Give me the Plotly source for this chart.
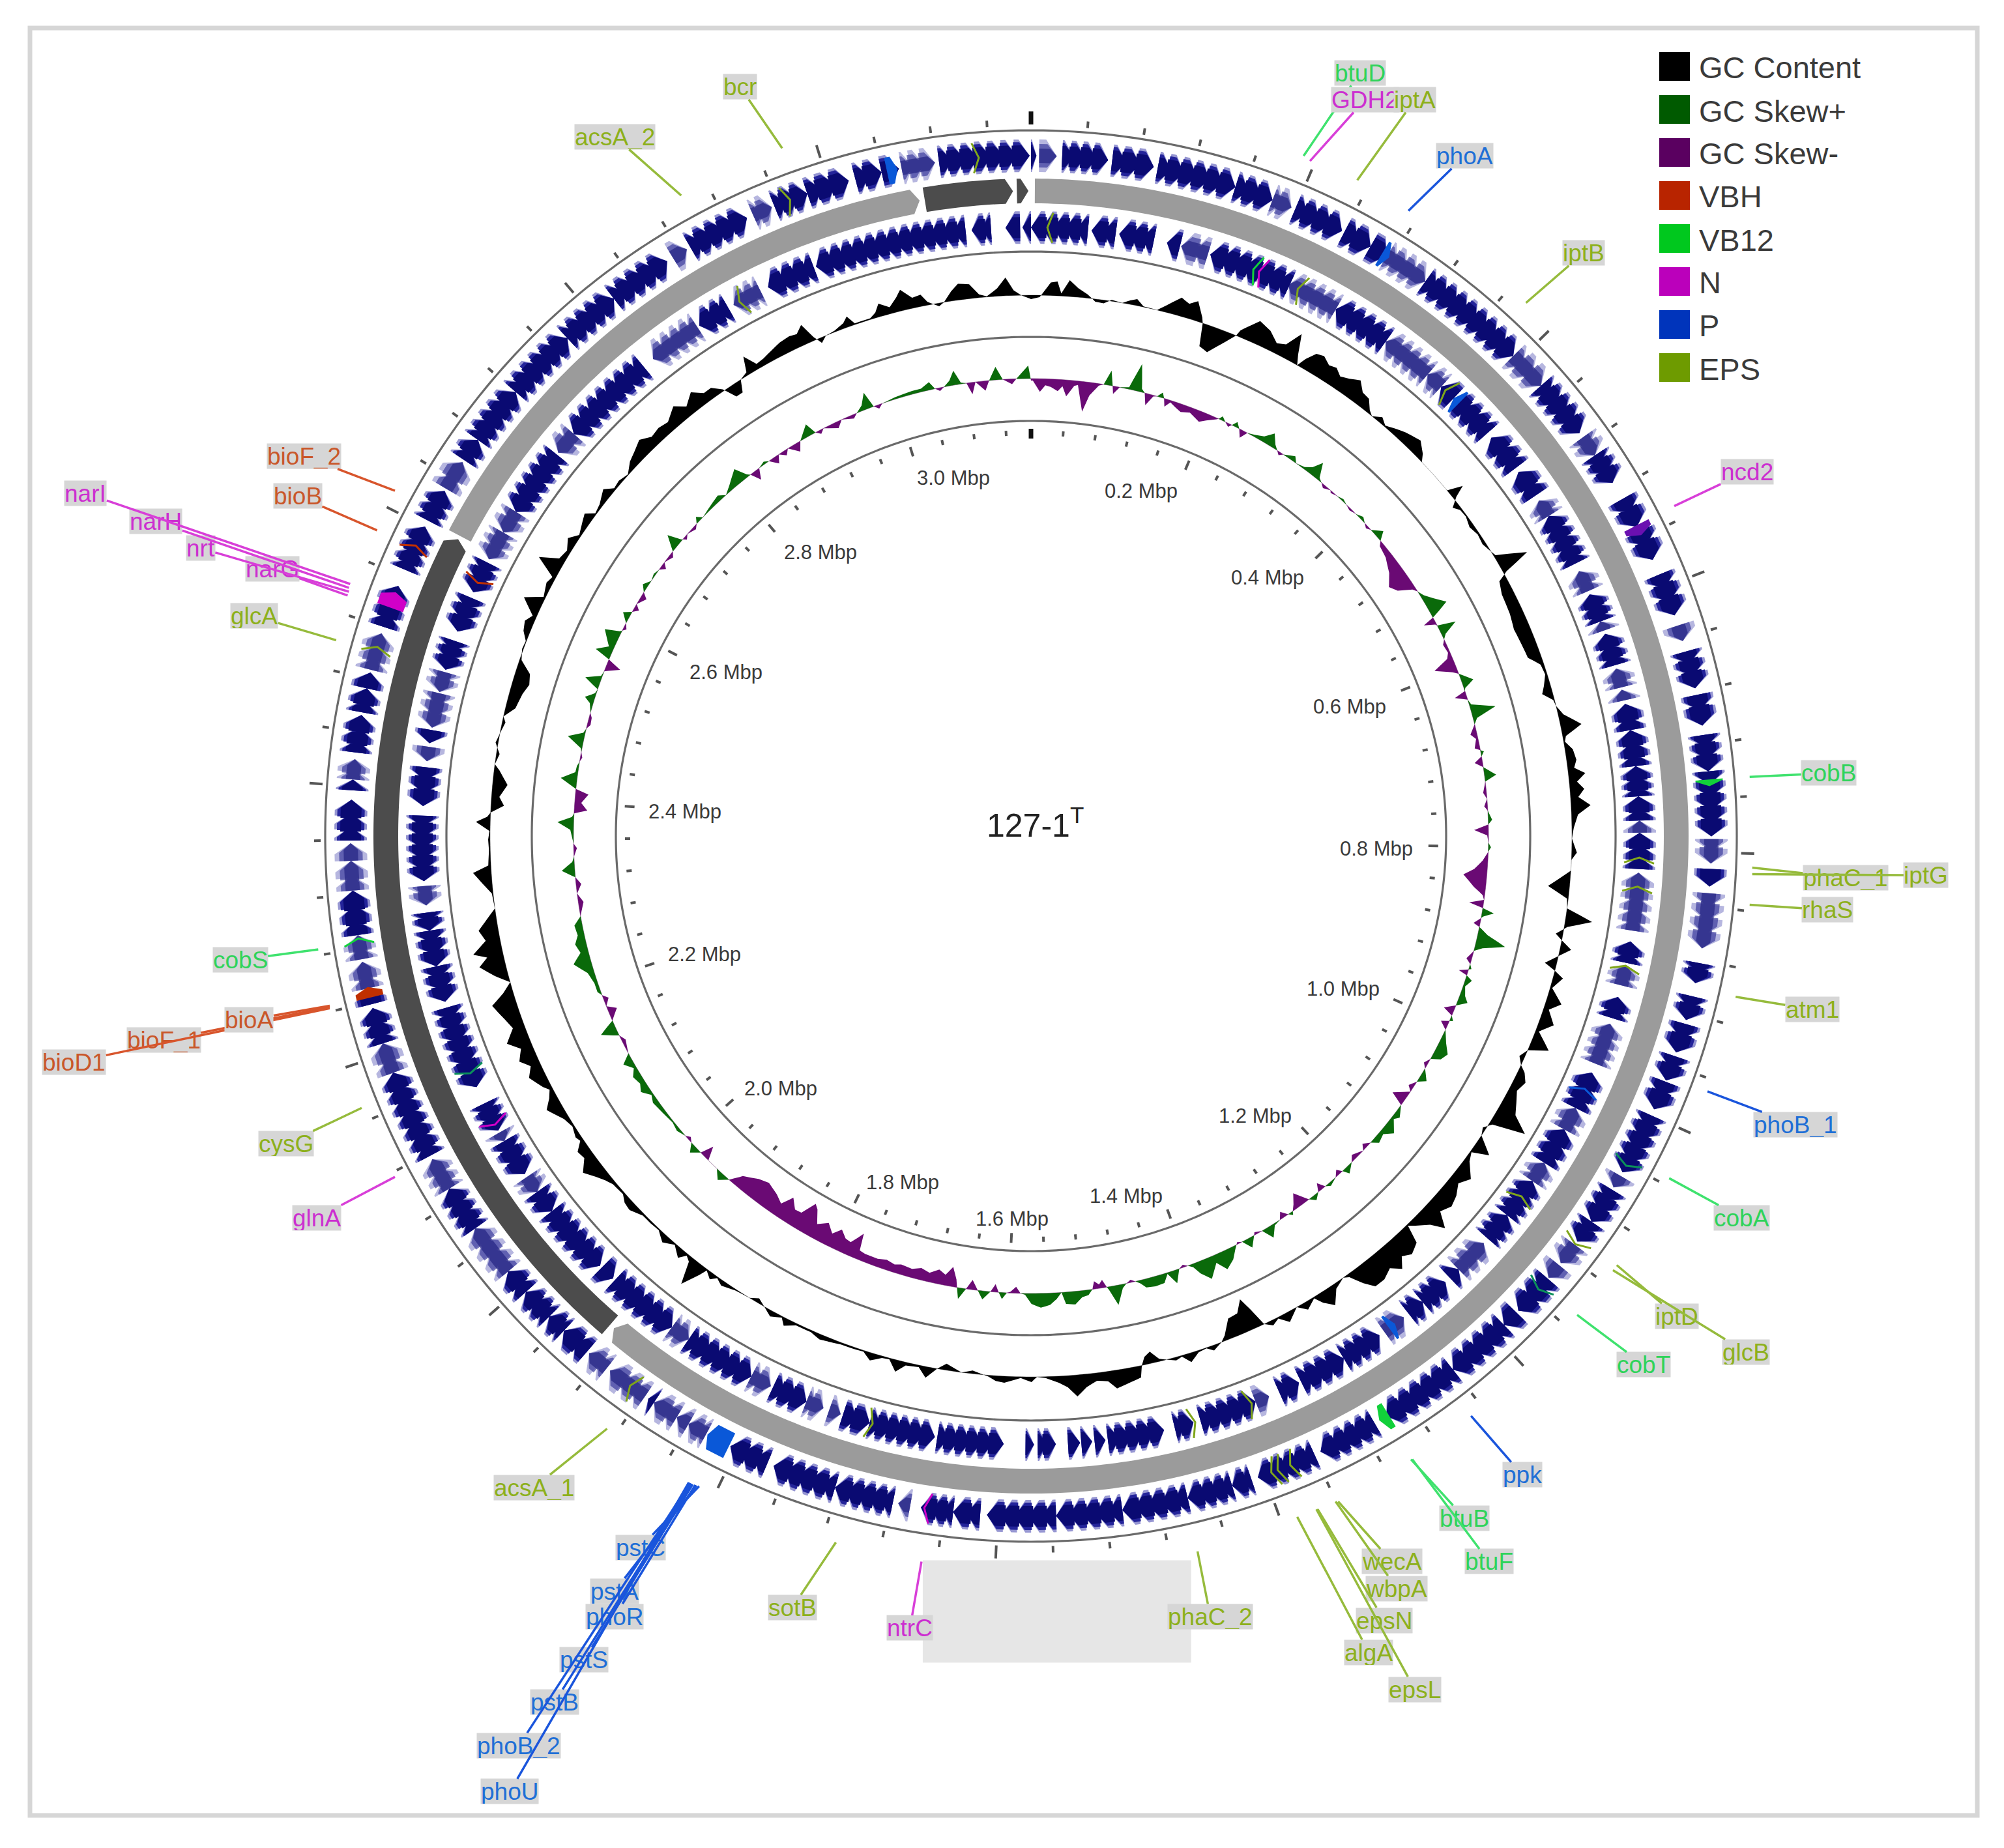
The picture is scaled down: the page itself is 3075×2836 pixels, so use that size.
import numpy as np
import plotly.graph_objects as go

# ---------- data ----------
GENOME_MBP = 3.151

# coding blocks on the forward strand (start Mbp, end Mbp, 1 = dense / 0 = pale)
fwd_blocks = [(0.0,.004,1),(.006,.019,0),(.023,.057,1),(.06,.091,1),(.094,.153,1),(.153,.182,1),(.182,.197,0),
(.2,.238,1),(.24,.262,1),(.262,.276,1),(.276,.31,0),(.31,.395,1),(.395,.425,0),(.425,.47,1),(.474,.49,0),(.49,.514,1),
(.528,.551,1),(.555,.578,1),(.59,.622,1),(.63,.642,0),(.65,.678,1),(.683,.706,1),(.713,.74,1),(.74,.788,1),(.79,.808,0),
(.812,.825,1),(.83,.871,0),(.882,.897,1),(.907,.925,1),(.928,.95,1),(.953,.972,1),(.973,.995,1),(1.0,1.047,1),(1.05,1.06,0),
(1.062,1.09,1),(1.09,1.108,1),(1.111,1.128,0),(1.13,1.142,0),(1.143,1.175,1),(1.177,1.19,1),(1.19,1.24,1),(1.24,1.3,1),
(1.31,1.355,1),(1.36,1.405,1),(1.41,1.425,1),(1.425,1.459,1),(1.459,1.508,1),(1.508,1.557,1),(1.557,1.608,1),(1.613,1.633,1),
(1.633,1.657,1),(1.665,1.674,0),(1.678,1.722,1),(1.722,1.77,1),(1.775,1.805,1),(1.825,1.84,0),(1.84,1.85,0),(1.85,1.87,0),
(1.87,1.875,1),(1.878,1.91,0),(1.913,1.93,0),(1.932,1.955,1),(1.955,1.97,1),(1.97,1.995,1),(1.995,2.015,1),(2.015,2.055,0),
(2.055,2.09,1),(2.09,2.115,0),(2.118,2.185,1),(2.185,2.208,0),(2.208,2.235,1),(2.238,2.25,1),(2.25,2.27,0),(2.272,2.29,0),
(2.29,2.323,1),(2.323,2.345,0),(2.345,2.358,0),(2.36,2.39,1),(2.397,2.405,1),(2.405,2.42,0),(2.425,2.453,1),(2.455,2.473,1),
(2.473,2.485,1),(2.487,2.515,0),(2.52,2.552,1),(2.565,2.6,1),(2.605,2.63,1),(2.632,2.655,0),(2.657,2.675,1),(2.675,2.72,1),
(2.72,2.775,1),(2.775,2.82,1),(2.82,2.868,1),(2.873,2.885,0),(2.888,2.935,1),(2.94,2.955,0),(2.957,2.983,1),(2.983,3.015,1),
(3.02,3.04,1),(3.04,3.053,1),(3.055,3.08,0),(3.083,3.15,1)]

# coding blocks on the reverse strand
rev_blocks = [(0.0,.047,1),(.05,.07,1),(.073,.102,1),(.113,.124,1),(.125,.148,0),(.15,.22,1),(.219,.263,0),(.263,.312,1),
(.312,.356,0),(.356,.371,0),(.371,.385,1),(.385,.425,1),(.43,.462,1),(.466,.49,1),(.495,.51,0),(.51,.555,1),(.562,.58,0),
(.583,.607,1),(.607,.615,0),(.618,.645,1),(.648,.664,0),(.666,.675,0),(.678,.70,1),(.70,.73,1),(.73,.755,1),(.755,.775,1),
(.775,.785,0),(.785,.815,1),(.818,.866,0),(.875,.893,1),(.895,.912,0),(.922,.94,1),(.945,.98,0),(.988,1.02,1),(1.02,1.04,0),
(1.04,1.072,1),(1.072,1.09,0),(1.09,1.125,1),(1.125,1.15,1),(1.155,1.185,0),(1.185,1.195,1),(1.2,1.225,1),(1.225,1.24,1),
(1.245,1.265,0),(1.27,1.305,1),(1.305,1.345,1),(1.347,1.365,1),(1.374,1.386,0),(1.386,1.434,1),(1.44,1.456,1),(1.465,1.512,1),
(1.514,1.523,1),(1.525,1.534,1),(1.535,1.545,1),(1.555,1.57,1),(1.573,1.58,1),(1.598,1.653,1),(1.655,1.71,1),(1.71,1.733,1),
(1.735,1.745,0),(1.75,1.765,0),(1.765,1.795,1),(1.797,1.815,0),(1.815,1.875,1),(1.875,1.892,0),(1.892,1.953,1),(1.955,1.968,1),
(1.97,2.03,1),(2.03,2.05,1),(2.05,2.065,0),(2.068,2.1,1),(2.1,2.108,0),(2.11,2.135,1),(2.15,2.22,1),(2.225,2.255,1),
(2.255,2.285,1),(2.285,2.30,1),(2.306,2.322,0),(2.326,2.38,1),(2.388,2.42,1),(2.425,2.437,0),(2.44,2.451,1),(2.453,2.482,0),
(2.483,2.5,0),(2.502,2.527,1),(2.535,2.565,1),(2.57,2.597,1),(2.6,2.625,0),(2.625,2.645,0),(2.645,2.703,1),(2.705,2.725,0),
(2.725,2.805,1),(2.815,2.86,0),(2.862,2.89,1),(2.895,2.92,0),(2.927,2.968,1),(2.97,3.097,1),(3.102,3.118,1),(3.13,3.142,1),(3.144,3.151,1)]

# coloured genes on the tracks: (strand, position Mbp, group, width Mbp; 0 = thin mark)
features = [("f",3.108,"EPS",0),("f",2.965,"EPS",0),("f",3.044,"P",.008),("f",2.535,"N",.012),("f",2.58,"VBH",0),
("f",2.243,"VBH",.008),("f",2.283,"VB12",0),("f",2.50,"EPS",0),("f",.746,"VB12",.005),("f",.55,"Nd",.008),("f",1.037,"VB12d",0),
("f",1.106,"EPS",0),("f",1.149,"VB12d",0),("f",1.887,"EPS",0),("f",1.806,"P",.018),("f",1.298,"VB12",.008),("f",1.39,"EPS",0),
("f",1.385,"EPS",0),("f",1.375,"EPS",0),("f",1.65,"N",0),("f",.272,"P",.006),
("r",.018,"EPS",0),("r",.192,"VB12",0),("r",.197,"N",0),("r",.232,"EPS",0),("r",.38,"EPS",0),("r",.385,"P",.006),("r",.81,"EPS",0),
("r",.834,"EPS",0),("r",.9,"EPS",0),("r",1.11,"EPS",0),("r",1.254,"P",.006),("r",1.007,"P",0),("r",1.394,"EPS",0),("r",1.443,"EPS",0),
("r",1.712,"EPS",0),("r",2.12,"N",0),("r",2.167,"VB12d",0),("r",2.583,"VBH",0),("r",2.905,"EPS",0)]

# backbone contigs (start, end, 1 = dark / 0 = light)
contig_start = [0.003, 1.932, 2.606, 3.068, 3.140]
contig_end = [1.928, 2.603, 3.064, 3.137, 3.149]
contig_dark = [0, 1, 0, 1, 1]

gc_pos = [0,.008,.012,.018,.024,.028,.035,.043,.052,.06,.068,.075,.085,.092,.098,.105,.118,.125,.137,.145,.152,.16,.162,.166,.175,.188,.195,.197,.21,.222,.232,.24,.248,.254,.258,.262,.268,.275,.283,.29,.297,.305,.314,.322,.33,.337,.342,.35,.357,.365,.375,.39,.4,.405,.44,.446,.45,.456,.462,.47,.48,.49,.5,.51,.515,.527,.533,.538,.55,.57,.585,.6,.615,.625,.635,.645,.652,.66,.666,.675,.687,.695,.7,.708,.718,.725,.731,.738,.745,.752,.76,.768,.78,.79,.803,.81,.82,.836,.846,.855,.864,.872,.88,.885,.892,.9,.909,.914,.919,.93,.942,.95,.962,.972,.985,.992,1.0,1.007,1.012,1.02,1.03,1.04,1.05,1.06,1.068,1.075,1.082,1.093,1.1,1.108,1.12,1.13,1.14,1.15,1.16,1.168,1.175,1.185,1.19,1.195,1.205,1.213,1.22,1.228,1.238,1.248,1.255,1.262,1.267,1.278,1.287,1.295,1.3,1.31,1.318,1.33,1.338,1.345,1.352,1.358,1.363,1.371,1.381,1.39,1.395,1.404,1.41,1.418,1.427,1.434,1.44,1.447,1.455,1.462,1.468,1.472,1.475,1.485,1.498,1.505,1.515,1.525,1.534,1.542,1.55,1.562,1.57,1.575,1.585,1.6,1.608,1.615,1.63,1.64,1.655,1.663,1.672,1.68,1.692,1.7,1.708,1.715,1.725,1.733,1.745,1.755,1.775,1.785,1.8,1.81,1.815,1.825,1.832,1.842,1.85,1.865,1.878,1.885,1.89,1.897,1.9,1.908,1.915,1.92,1.925,1.935,1.945,1.955,1.965,1.975,1.987,1.995,2.002,2.015,2.022,2.03,2.04,2.05,2.058,2.065,2.07,2.08,2.09,2.105,2.113,2.12,2.125,2.138,2.147,2.155,2.165,2.174,2.185,2.195,2.21,2.218,2.226,2.235,2.246,2.253,2.258,2.268,2.278,2.285,2.296,2.31,2.32,2.33,2.336,2.35,2.36,2.368,2.376,2.381,2.385,2.392,2.4,2.412,2.425,2.43,2.44,2.45,2.47,2.475,2.485,2.5,2.51,2.52,2.53,2.54,2.548,2.556,2.565,2.572,2.584,2.592,2.605,2.612,2.622,2.63,2.64,2.65,2.658,2.677,2.683,2.692,2.705,2.712,2.72,2.73,2.74,2.75,2.76,2.77,2.78,2.79,2.803,2.812,2.823,2.832,2.84,2.848,2.855,2.862,2.867,2.875,2.88,2.887,2.895,2.905,2.915,2.925,2.932,2.939,2.945,2.95,2.956,2.965,2.975,2.98,2.985,3.0,3.006,3.011,3.02,3.028,3.033,3.042,3.05,3.055,3.065,3.07,3.078,3.085,3.095,3.103,3.11,3.12,3.128,3.135,3.142,3.151]
gc_val = [-6,-3,6,20,22,4,25,14,6,-4,-5,2,0,6,10,1,0,10,28,22,30,8,0,-35,-40,-15,0,10,35,28,15,20,45,15,0,15,30,33,25,28,20,25,33,20,18,5,0,9,2,8,15,22,10,0,0,23,5,-10,-3,-2,-7,-3,-5,0,3,47,5,-12,-18,-20,-24,-22,-20,-5,-3,-10,-16,-2,0,8,32,5,2,12,15,10,26,12,22,12,30,10,3,0,8,0,0,-33,-2,0,41,5,-11,0,17,0,-18,0,15,3,24,8,23,5,30,0,-8,0,10,18,12,20,28,55,5,-5,0,27,2,8,26,15,25,30,22,45,25,10,2,30,38,30,45,32,40,40,25,5,0,8,28,15,2,12,0,15,2,8,0,-30,-50,-32,-30,-8,0,8,1,3,14,2,5,1,-4,-18,-12,0,18,22,28,15,12,20,33,18,10,2,0,8,2,10,8,2,-5,0,-10,0,17,3,5,18,2,3,12,2,3,3,8,3,3,12,2,9,2,-7,0,2,8,2,10,2,14,42,8,3,14,2,12,2,3,3,12,10,3,5,10,18,30,15,18,5,8,3,8,24,12,5,12,25,15,28,18,35,18,25,37,15,0,20,40,25,45,22,30,18,0,2,15,28,4,2,3,1,22,5,0,-20,-12,-23,-8,0,-5,4,-5,0,-15,-20,-26,-22,-3,2,1,10,14,6,30,3,9,5,38,10,6,15,3,15,2,5,15,3,5,1,12,18,25,15,18,15,28,15,28,15,15,3,-18,-18,0,5,28,8,10,15,20,22,20,30,5,-8,0,2,8,16,2,2,8,20,10,22,32,16,18,5,-5,0,15,25,22,5,1,12,28,8,0,-6]

skew_pos = [0,.002,.01,.016,.022,.03,.035,.04,.048,.052,.06,.066,.075,.08,.086,.09,.092,.098,.108,.116,.122,.126,.13,.136,.14,.145,.148,.151,.156,.163,.17,.18,.193,.2,.21,.212,.215,.22,.225,.228,.232,.237,.242,.247,.255,.265,.273,.28,.285,.289,.293,.305,.31,.32,.327,.333,.34,.345,.35,.358,.36,.375,.388,.396,.404,.41,.415,.42,.43,.436,.44,.454,.46,.47,.483,.492,.5,.505,.512,.52,.53,.535,.538,.541,.546,.548,.553,.56,.565,.57,.58,.586,.593,.602,.606,.617,.623,.626,.63,.636,.642,.651,.658,.664,.674,.68,.69,.695,.7,.706,.712,.722,.728,.74,.747,.755,.76,.77,.775,.781,.787,.795,.8,.805,.815,.825,.832,.845,.853,.858,.863,.867,.871,.876,.885,.888,.895,.903,.91,.915,.925,.93,.935,.94,.943,.947,.955,.965,.971,.978,.985,.99,.995,1.0,1.007,1.02,1.03,1.038,1.043,1.05,1.055,1.066,1.072,1.08,1.085,1.097,1.103,1.115,1.12,1.132,1.14,1.15,1.156,1.163,1.168,1.18,1.186,1.196,1.2,1.204,1.21,1.22,1.225,1.23,1.235,1.242,1.248,1.258,1.265,1.27,1.272,1.276,1.282,1.287,1.295,1.303,1.31,1.318,1.32,1.328,1.335,1.34,1.345,1.352,1.362,1.37,1.381,1.39,1.395,1.4,1.405,1.41,1.417,1.424,1.43,1.44,1.45,1.455,1.46,1.465,1.47,1.475,1.483,1.49,1.492,1.496,1.5,1.505,1.508,1.513,1.52,1.528,1.538,1.542,1.548,1.555,1.565,1.575,1.582,1.587,1.592,1.598,1.602,1.607,1.611,1.615,1.62,1.628,1.634,1.641,1.647,1.654,1.657,1.659,1.665,1.672,1.68,1.69,1.7,1.71,1.723,1.73,1.74,1.75,1.765,1.772,1.775,1.785,1.792,1.8,1.808,1.817,1.828,1.836,1.841,1.85,1.858,1.867,1.875,1.885,1.9,1.912,1.92,1.928,1.934,1.937,1.946,1.955,1.968,1.975,1.98,1.988,1.995,2.0,2.005,2.015,2.025,2.04,2.055,2.063,2.072,2.08,2.09,2.098,2.107,2.115,2.13,2.137,2.146,2.155,2.166,2.172,2.18,2.185,2.19,2.2,2.213,2.226,2.236,2.246,2.255,2.266,2.275,2.29,2.3,2.31,2.318,2.326,2.335,2.35,2.355,2.37,2.378,2.384,2.388,2.392,2.4,2.41,2.415,2.425,2.433,2.44,2.45,2.46,2.47,2.477,2.482,2.487,2.495,2.5,2.51,2.515,2.522,2.527,2.535,2.542,2.548,2.556,2.562,2.567,2.575,2.59,2.595,2.6,2.606,2.615,2.62,2.625,2.63,2.64,2.645,2.652,2.66,2.668,2.675,2.68,2.685,2.695,2.7,2.71,2.716,2.72,2.725,2.735,2.74,2.745,2.75,2.76,2.778,2.785,2.795,2.81,2.817,2.82,2.826,2.832,2.84,2.845,2.853,2.858,2.865,2.87,2.88,2.886,2.89,2.9,2.905,2.91,2.915,2.93,2.937,2.95,2.955,2.963,2.97,2.975,2.98,2.985,3.0,3.02,3.03,3.04,3.045,3.05,3.055,3.062,3.068,3.074,3.08,3.085,3.09,3.1,3.105,3.113,3.12,3.13,3.135,3.148,3.151]
skew_val = [-3,-3,-20,-10,-12,-18,-10,-25,-8,-6,-46,-20,-3,0,23,0,-12,0,3,42,5,0,-18,-2,0,8,0,-12,-3,-8,-12,-8,-16,-10,-2,0,6,0,-5,0,8,0,-12,0,3,8,20,6,0,-5,0,8,0,3,10,25,4,0,-5,0,-3,3,-3,0,5,0,-4,0,13,0,-6,-10,-14,-20,-33,-25,-5,0,5,15,30,12,0,-18,-2,0,28,6,0,-5,-3,-8,-33,-8,0,18,2,0,-18,0,3,38,6,0,-10,-3,-8,5,0,-12,0,18,0,-5,0,-5,0,6,0,-22,-2,0,4,0,-8,-20,-36,-18,-3,0,-22,0,18,3,-10,0,15,45,12,0,-8,0,4,-14,0,10,3,8,15,0,-16,0,5,-12,0,10,20,14,0,-6,0,12,0,-8,0,-22,0,10,4,18,6,10,0,-8,0,-8,0,10,0,-8,0,5,0,-12,0,8,0,-22,-8,0,5,0,-10,0,3,18,0,-4,0,15,0,-3,5,18,28,12,32,18,5,0,-4,0,20,2,14,15,13,5,0,-4,0,6,30,5,0,-12,-6,-12,0,8,10,20,18,0,10,18,22,16,2,0,-10,-2,0,10,0,-12,0,13,0,-15,0,17,0,-12,-30,-16,-22,-14,-18,-13,-15,-12,-15,-12,-12,-14,-40,-20,-22,-32,-20,-32,-22,-42,-48,-25,-24,-38,-20,-28,-35,-30,-24,-18,-6,0,12,0,0,-20,0,12,0,-5,0,5,2,5,8,3,14,8,12,4,15,0,-6,0,25,0,-14,0,-8,0,5,5,10,27,12,17,10,12,0,-8,0,-8,0,20,3,-5,0,5,25,3,0,-20,-10,-20,0,25,4,3,-3,2,25,3,0,-5,-4,0,5,15,2,0,24,2,0,-22,0,25,8,25,3,-5,0,12,0,-8,0,-9,0,8,0,3,0,-8,0,-6,0,22,2,-5,0,-5,0,8,0,3,8,0,8,22,4,0,-16,0,4,0,-12,0,-8,0,-14,0,5,18,0,-6,0,-10,0,-6,0,8,25,0,-6,0,3,5,5,12,0,-5,0,8,22,2,0,-18,0,-15,0,20,0,-8,0,20,-3]

outer_tick_major_label = ["0.2 Mbp","0.4 Mbp","0.6 Mbp","0.8 Mbp","1.0 Mbp","1.2 Mbp","1.4 Mbp","1.6 Mbp","1.8 Mbp","2.0 Mbp","2.2 Mbp","2.4 Mbp","2.6 Mbp","2.8 Mbp","3.0 Mbp"]
legend_names = ["GC Content","GC Skew+","GC Skew-","VBH","VB12","N","P","EPS"]
gene_names = ["bcr","acsA_2","btuD","GDH2","iptA","phoA","iptB","ncd2","cobB","phaC_1","iptG","rhaS","atm1","phoB_1","cobA","iptD","glcB","cobT","ppk","btuB","btuF","wecA","wbpA","epsN","algA","epsL","phaC_2","ntrC","sotB","pstC","pstA","phoR","pstS","pstB","phoB_2","phoU","acsA_1","glnA","cysG","bioF_1","bioD1","bioA","cobS","glcA","narG","nrt","narH","narI","bioB","bioF_2"]
gene_groups = ["EPS","EPS","VB12","N","EPS","P","EPS","N","VB12","EPS","EPS","EPS","EPS","P","VB12","EPS","EPS","VB12","P","VB12","VB12","EPS","EPS","EPS","EPS","EPS","EPS","N","EPS","P","P","P","P","P","P","P","EPS","N","EPS","VBH","VBH","VBH","VB12","EPS","N","N","N","N","VBH","VBH"]

# ---------- layout (pixels of the 3075 x 2836 page) ----------
W, H = 3075, 2836
CX, CY = 1582, 1283
RMAX = 1270
S = 3075 / 1568
legend_colors = ["#000000","#005a00","#5a0060","#b82400","#00c81e","#bb00bb","#0034bb","#6e9b00"]
label_text = {"EPS":"#8db01c","VB12":"#2fd35a","N":"#cc2fd0","P":"#1f6fd6","VBH":"#c9572a"}
leader = {"EPS":"#96bb3c","VB12":"#3fe26e","N":"#d83fd8","P":"#1a55dc","VBH":"#d8552c"}
mark = {"EPS":"#7fa51a","VB12":"#12d03a","VB12d":"#0b8f5a","N":"#d000c8","Nd":"#6a10b0","P":"#0a58d8","VBH":"#c03000"}

tick_label_xy = [(893,384),(992,452),(1056,553),(1077,664),(1051,774),(982,873),(881,936),(792,954),(706,925),(611,852),(551,747),(536,635),(568,526),(642,432),(746,374)]
gene_label_xy = [(579,68),(481,107),(1064,57),(1068,78),(1107,78),(1146,122),(1239,198),(1367,369),(1431,605),(1444,687),(1507,685),(1430,712),(1418,790),(1405,880),(1363,953),(1312,1030),(1366,1058),(1286,1068),(1191,1154),(1146,1188),(1165,1222),(1089,1222),(1093,1243),(1083,1268),(1071,1293),(1107,1322),(947,1265),(712,1274),(620,1258),(501,1211),(481,1245),(481,1265),(457,1299),(434,1332),(406,1366),(399,1402),(418,1164),(248,953),(224,895),(128,814),(58,831),(195,798),(188,751),(199,482),(213,445),(157,429),(122,408),(67,386),(233,388),(238,357)]
leader_tip_xy = [(612,116),(533,153),(1020,122),(1025,126),(1062,141),(1102,165),(1194,237),(1310,396),(1369,608),(1371,679),(1371,684),(1369,708),(1358,780),(1336,854),(1306,922),(1265,990),(1262,994),(1234,1029),(1151,1108),(1104,1142),(1105,1142),(1047,1175),(1045,1175),(1031,1181),(1015,1187),(1030,1181),(937,1214),(721,1222),(654,1207),(547,1163),(545,1162.5),(544,1162),(542,1161.5),(541,1161),(540,1160.5),(539,1160),(475,1118),(309,921),(283,867),(258,788),(258,789),(258,787),(249,743),(263,501),(272,466),(273,463),(273,460),(274,457),(295,415),(309,384)]

# radii of the rings, in page pixels
R_OUT, R_C2, R_C3, R_IN = 1083, 897, 766, 637
FWD = (1019, 1069)
REV = (909, 959)
BACK = (971, 1009)
R_GC, R_SKEW = 830, 702


def deg(p):
    return np.asarray(p, dtype=float) * 360.0 / GENOME_MBP


def ring(r):
    th = np.linspace(0, 360, 721)
    return go.Scatterpolar(theta=th, r=np.full_like(th, r), mode="lines",
                           line=dict(color="#6a6a6a", width=3.2), hoverinfo="skip", showlegend=False)


def ticks(step_list, r0, r1, color, width):
    th, rr = [], []
    for p in step_list:
        d = float(deg(p))
        th += [d, d, None]
        rr += [r0, r1, None]
    return go.Scatterpolar(theta=th, r=rr, mode="lines", line=dict(color=color, width=width),
                           hoverinfo="skip", showlegend=False)


def arrows(blocks, rlo, rhi, sign, step=0.0096, head=0.008, overlap=0.002):
    th, rr = [], []
    mid = (rlo + rhi) / 2
    for s, e in blocks:
        n = max(1, int(round((e - s) / step)))
        w = (e - s) / n
        for k in range(n):
            a, b = s + k * w, s + (k + 1) * w
            h = min(head, (b - a) * 0.85)
            if sign > 0:
                a0 = a - overlap if k > 0 else a
                pts = [(a0, rlo), (b - h, rlo), (b, mid), (b - h, rhi), (a0, rhi)]
            else:
                b0 = b + overlap if k < n - 1 else b
                pts = [(b0, rlo), (a + h, rlo), (a, mid), (a + h, rhi), (b0, rhi)]
            pts.append(pts[0])
            th += [float(deg(x[0])) for x in pts] + [None]
            rr += [x[1] for x in pts] + [None]
    return th, rr


def filled(th, rr, color):
    return go.Scatterpolar(theta=th, r=rr, mode="lines", fill="toself", fillcolor=color,
                           line=dict(width=0, color=color), hoverinfo="skip", showlegend=False)


def gene_track(blocks, rng, sign):
    out = []
    lo, hi = rng
    dense = [(s, e) for s, e, d in blocks if d]
    pale = [(s, e) for s, e, d in blocks if not d]
    out.append(filled(*arrows(pale, lo, hi, sign), "rgba(110,110,192,0.50)"))
    out.append(filled(*arrows(pale, lo + 7, hi - 7, sign, head=0.007, overlap=0.003), "rgba(60,60,156,0.70)"))
    out.append(filled(*arrows(pale, lo + 14, hi - 14, sign, head=0.005, overlap=0.004), "rgba(36,36,130,0.70)"))
    out.append(filled(*arrows(dense, lo, hi, sign), "rgba(80,80,180,0.60)"))
    out.append(filled(*arrows(dense, lo + 4, hi - 4, sign, head=0.0075, overlap=0.0025), "#24249a"))
    out.append(filled(*arrows(dense, lo + 9, hi - 9, sign, head=0.006, overlap=0.0035), "#0a0a72"))
    return out


def signed_area(pos, val, base, keep_positive, color):
    pos = np.asarray(pos, dtype=float)
    val = np.asarray(val, dtype=float)
    order = np.argsort(pos)
    pos, val = pos[order], val[order]
    p2, v2 = [pos[0]], [val[0]]
    for i in range(1, len(pos)):
        a, b = val[i - 1], val[i]
        if a * b < 0:
            p2.append(pos[i - 1] + (pos[i] - pos[i - 1]) * a / (a - b))
            v2.append(0.0)
        p2.append(pos[i])
        v2.append(b)
    grid = np.union1d(np.array(p2), np.arange(0, GENOME_MBP, 0.01))
    v3 = np.interp(grid, p2, v2)
    v3 = np.maximum(v3, 0) if keep_positive else np.minimum(v3, 0)
    th = deg(grid)
    return filled(np.r_[th, th[::-1], th[0]], np.r_[base + v3, np.full_like(th, base), base + v3[0]], color)


def baseline(r, color):
    th = np.linspace(0, 360, 721)
    return go.Scatterpolar(theta=th, r=np.full_like(th, r), mode="lines", line=dict(color=color, width=1),
                           hoverinfo="skip", showlegend=False)


traces = [ring(R_OUT), ring(R_C2), ring(R_C3), ring(R_IN)]

all_ticks = np.round(np.arange(0, GENOME_MBP, 0.04), 2)
major = [t for t in all_ticks if abs(t / 0.2 - round(t / 0.2)) < 1e-6 and t > 0]
minor = [t for t in all_ticks if abs(t / 0.2 - round(t / 0.2)) >= 1e-6]
traces += [ticks(minor, 1090, 1100, "#555555", 4), ticks(major, 1090, 1110, "#555555", 4), ticks([0], 1092, 1112, "#111111", 7)]
traces += [ticks(minor, 615, 623, "#555555", 4), ticks(major, 610, 625, "#555555", 4), ticks([0], 610, 625, "#111111", 7)]

for s, e, d in zip(contig_start, contig_end, contig_dark):
    a = np.arange(s, e - 0.006, 0.005)
    mid = (BACK[0] + BACK[1]) / 2
    p = np.r_[a, e - 0.006, e, e - 0.006, a[::-1], a[0]]
    rr = np.r_[np.full(len(a) + 1, BACK[1]), mid, np.full(len(a) + 1, BACK[0]), BACK[1]]
    traces.append(filled(deg(p), rr, "#4c4c4c" if d else "#9b9b9b"))

traces += gene_track(fwd_blocks, FWD, 1)
traces += gene_track(rev_blocks, REV, -1)

for strand, p, grp, w in features:
    lo, hi = FWD if strand == "f" else REV
    sign = 1 if strand == "f" else -1
    if w:
        th, rr = arrows([(p, p + w)], lo + 4, hi - 4, sign, step=1, head=0.004, overlap=0)
        traces.append(filled(th, rr, mark[grp]))
    else:
        tip = float(deg(p + sign * 0.0045))
        d = float(deg(p))
        traces.append(go.Scatterpolar(theta=[d, tip, d], r=[lo + 2, (lo + hi) / 2, hi - 2], mode="lines",
                                      line=dict(color=mark[grp], width=3), hoverinfo="skip", showlegend=False))

traces += [baseline(R_GC, "#a8a8a8"), baseline(R_SKEW, "#a88aa8")]
traces.append(signed_area(gc_pos, gc_val, R_GC, True, "#000000"))
traces.append(signed_area(gc_pos, gc_val, R_GC, False, "#000000"))
traces.append(signed_area(skew_pos, skew_val, R_SKEW, True, "#0a6a0a"))
traces.append(signed_area(skew_pos, skew_val, R_SKEW, False, "#6a0a74"))

fig = go.Figure(traces)

annotations, shapes = [], []
FONT = "Liberation Sans, Arial, sans-serif"


def X(px):
    return px / W


def Y(px):
    return 1 - px / H


for i, name in enumerate(gene_names):
    grp = gene_groups[i]
    lx, ly = gene_label_xy[i][0] * S, gene_label_xy[i][1] * S
    tx, ty = leader_tip_xy[i][0] * S, leader_tip_xy[i][1] * S
    annotations.append(dict(x=X(tx), y=Y(ty), xref="paper", yref="paper", text=name, showarrow=True,
                            ax=lx - tx, ay=ly - ty, arrowhead=0, arrowwidth=3.5, arrowcolor=leader[grp],
                            standoff=0, startstandoff=0, bgcolor="#d6d6d6", borderpad=0, height=38,
                            font=dict(family=FONT, size=37, color=label_text[grp])))

for t, (lx, ly) in zip(outer_tick_major_label, tick_label_xy):
    annotations.append(dict(x=X(lx * S), y=Y(ly * S), xref="paper", yref="paper", text=t, showarrow=False,
                            xanchor="center", yanchor="middle",
                            font=dict(family=FONT, size=31, color="#3a3a3a")))

annotations.append(dict(x=X(810 * S), y=Y(644 * S), xref="paper", yref="paper", text="127-1<sup>T</sup>", showarrow=False,
                        xanchor="center", yanchor="middle",
                        font=dict(family=FONT, size=50, color="#222222")))

shapes.append(dict(type="rect", xref="paper", yref="paper", x0=X(46), x1=X(3034), y0=Y(43), y1=Y(2786),
                   line=dict(color="#d6d6d6", width=7), fillcolor="rgba(0,0,0,0)", layer="below"))
shapes.append(dict(type="rect", xref="paper", yref="paper", x0=X(722 * S), x1=X(932 * S), y0=Y(1221 * S), y1=Y(1301 * S),
                   line=dict(width=0), fillcolor="#e6e6e6", layer="below"))

for i, (n, c) in enumerate(zip(legend_names, legend_colors)):
    yc = 102 + 66 * i
    shapes.append(dict(type="rect", xref="paper", yref="paper", x0=X(2546), x1=X(2593), y0=Y(yc - 22), y1=Y(yc + 22),
                       line=dict(width=0), fillcolor=c))
    annotations.append(dict(x=X(2605), y=Y(yc + 2), xref="paper", yref="paper", text=n, showarrow=False,
                            xanchor="left", yanchor="middle",
                            font=dict(family=FONT, size=47, color="#3a3a3a")))

fig.update_layout(
    width=W, height=H, autosize=False,
    margin=dict(l=0, r=0, t=0, b=0),
    paper_bgcolor="#ffffff", showlegend=False,
    polar=dict(
        domain=dict(x=[(CX - RMAX) / W, (CX + RMAX) / W], y=[1 - (CY + RMAX) / H, 1 - (CY - RMAX) / H]),
        bgcolor="rgba(0,0,0,0)",
        radialaxis=dict(visible=False, range=[0, RMAX]),
        angularaxis=dict(visible=False, direction="clockwise", rotation=90, thetaunit="degrees"),
    ),
    annotations=annotations, shapes=shapes,
)
fig.write_html("out.html", post_script="document.body.style.margin='0';", config={"displayModeBar": False})
